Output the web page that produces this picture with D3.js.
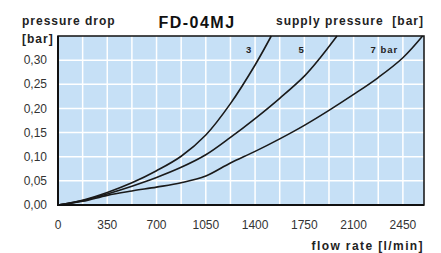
<!DOCTYPE html>
<html>
<head>
<meta charset="utf-8">
<script src="https://cdn.jsdelivr.net/npm/d3@7"></script>
<style>
  body { margin: 0; background: #fff; }
  text { font-family: "Liberation Sans", Arial, sans-serif; }
</style>
</head>
<body>
<div id="chart"></div>
<script>
var width = 441,
    height = 253,
    margin = {top: 36, right: 17, bottom: 48, left: 58};

// supply pressure curves: flow rate [l/min] vs pressure drop [bar]
var flow3 = [0, 175, 350, 525, 700, 875, 1050, 1225, 1400, 1515];
var drop3 = [0, 0.010, 0.026, 0.046, 0.071, 0.101, 0.145, 0.210, 0.290, 0.35];

var flow5 = [0, 175, 350, 525, 700, 875, 1050, 1225, 1400, 1575, 1750, 1860, 1982];
var drop5 = [0, 0.009, 0.023, 0.039, 0.057, 0.078, 0.104, 0.140, 0.179, 0.221, 0.267, 0.304, 0.35];

var flow7 = [0, 175, 350, 525, 700, 875, 1050, 1225, 1400, 1575, 1750, 1925, 2100, 2275, 2450, 2590];
var drop7 = [0, 0.0076, 0.020, 0.029, 0.037, 0.046, 0.060, 0.087, 0.111, 0.137, 0.165, 0.196, 0.229, 0.264, 0.305, 0.35];

var curveLabels = ["3", "5", "7 bar"];
var labelFlow = [1357, 1731, 2319];

var xTicks = [0, 350, 700, 1050, 1400, 1750, 2100, 2450];
var yTicks = [0, 0.05, 0.10, 0.15, 0.20, 0.25, 0.30];

var series = [
  {flow: flow3, drop: drop3},
  {flow: flow5, drop: drop5},
  {flow: flow7, drop: drop7}
];

var svg = d3.select("#chart").append("svg")
  .attr("width", width)
  .attr("height", height);

var x = d3.scaleLinear()
  .domain([0, 2600])
  .range([margin.left, width - margin.right]);

var y = d3.scaleLinear()
  .domain([0, 0.35])
  .range([height - margin.bottom, margin.top]);

var comma = d3.formatLocale({decimal: ",", thousands: ".", grouping: [3], currency: ["", ""]}).format(".2f");

// plot background
svg.append("rect")
  .attr("x", x(0))
  .attr("y", y(0.35))
  .attr("width", x(2600) - x(0))
  .attr("height", y(0) - y(0.35))
  .attr("fill", "#c6e0f6");

// grid
var grid = svg.append("g");
grid.selectAll("line.v")
  .data(d3.range(175, 2600, 175))
  .enter().append("line")
  .attr("x1", d => x(d)).attr("x2", d => x(d))
  .attr("y1", y(0)).attr("y2", y(0.35))
  .attr("stroke", "#fff").attr("stroke-width", 1.5);

grid.selectAll("line.h")
  .data(yTicks.slice(1))
  .enter().append("line")
  .attr("x1", x(0)).attr("x2", x(2600))
  .attr("y1", d => y(d)).attr("y2", d => y(d))
  .attr("stroke", "#fff").attr("stroke-width", 1.5);

// curves
var line = d3.line()
  .x(d => x(d[0]))
  .y(d => y(d[1]))
  .curve(d3.curveCatmullRom.alpha(0.5));

svg.selectAll("path.curve")
  .data(series)
  .enter().append("path")
  .attr("class", "curve")
  .attr("d", s => line(s.flow.map((f, i) => [f, s.drop[i]])))
  .attr("fill", "none")
  .attr("stroke", "#1a1a1a")
  .attr("stroke-width", 1.6);

// frame
svg.append("rect")
  .attr("x", x(0))
  .attr("y", y(0.35))
  .attr("width", x(2600) - x(0))
  .attr("height", y(0) - y(0.35))
  .attr("fill", "none")
  .attr("stroke", "#111")
  .attr("stroke-width", 1.5);

svg.append("path")
  .attr("d", "M" + x(0) + "," + y(0.35) + "V" + y(0) + "H" + x(2600))
  .attr("fill", "none")
  .attr("stroke", "#111")
  .attr("stroke-width", 2);

// curve labels
svg.selectAll("text.clabel")
  .data(curveLabels)
  .enter().append("text")
  .attr("x", (d, i) => x(labelFlow[i]))
  .attr("y", 53)
  .attr("text-anchor", "middle")
  .attr("font-size", 9.5)
  .attr("font-weight", "bold")
  .attr("letter-spacing", 1)
  .attr("fill", "#222")
  .text(d => d);

// tick labels
svg.selectAll("text.xt")
  .data(xTicks)
  .enter().append("text")
  .attr("x", d => x(d))
  .attr("y", 229)
  .attr("text-anchor", "middle")
  .attr("font-size", 12)
  .attr("fill", "#333")
  .text(d => d);

svg.selectAll("text.yt")
  .data(yTicks)
  .enter().append("text")
  .attr("x", 47)
  .attr("y", d => y(d))
  .attr("dy", "0.35em")
  .attr("text-anchor", "end")
  .attr("font-size", 12)
  .attr("fill", "#333")
  .text(d => comma(d));

// titles
svg.append("text")
  .attr("x", 197).attr("y", 28)
  .attr("text-anchor", "middle")
  .attr("font-size", 16).attr("font-weight", "bold")
  .attr("letter-spacing", 1.5)
  .attr("fill", "#111")
  .text("FD-04MJ");

svg.append("text")
  .attr("x", 22).attr("y", 25)
  .attr("font-size", 12).attr("font-weight", "bold")
  .attr("letter-spacing", 1)
  .attr("fill", "#222")
  .text("pressure drop");

svg.append("text")
  .attr("x", 22).attr("y", 43)
  .attr("font-size", 12).attr("font-weight", "bold")
  .attr("letter-spacing", 1)
  .attr("fill", "#222")
  .text("[bar]");

svg.append("text")
  .attr("x", 424).attr("y", 25)
  .attr("text-anchor", "end")
  .attr("font-size", 12).attr("font-weight", "bold")
  .attr("letter-spacing", 1)
  .attr("fill", "#222")
  .attr("xml:space", "preserve")
  .text("supply pressure  [bar]");

svg.append("text")
  .attr("x", 424).attr("y", 250)
  .attr("text-anchor", "end")
  .attr("font-size", 12).attr("font-weight", "bold")
  .attr("letter-spacing", 1.4)
  .attr("fill", "#222")
  .text("flow rate [l/min]");
</script>
</body>
</html>
